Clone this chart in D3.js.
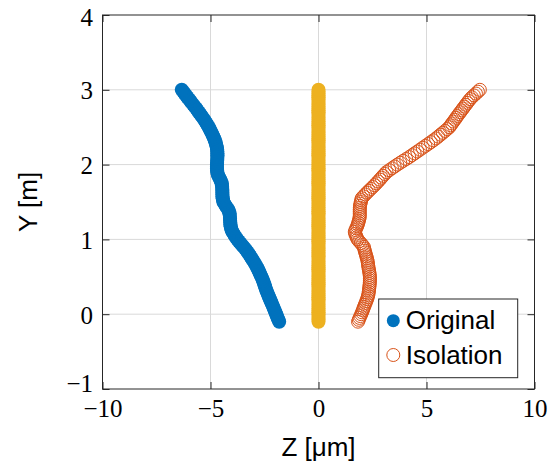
<!DOCTYPE html>
<html>
<head>
<meta charset="utf-8">
<script src="https://cdn.jsdelivr.net/npm/d3@7"></script>
<style>
body { margin: 0; background: #fff; }
</style>
</head>
<body>
<svg width="552" height="461"></svg>
<script>
// depth samples shared by the three series
const yValues = [
  -0.100, -0.075, -0.050, -0.025, 0.000, 0.025, 0.050, 0.075, 0.100, 0.125,
  0.150, 0.175, 0.200, 0.225, 0.250, 0.275, 0.300, 0.325, 0.350, 0.375,
  0.400, 0.425, 0.450, 0.475, 0.500, 0.525, 0.550, 0.575, 0.600, 0.625,
  0.650, 0.675, 0.700, 0.725, 0.750, 0.775, 0.800, 0.825, 0.850, 0.875,
  0.900, 0.925, 0.950, 0.975, 1.000, 1.025, 1.050, 1.075, 1.100, 1.125,
  1.150, 1.175, 1.200, 1.225, 1.250, 1.275, 1.300, 1.325, 1.350, 1.375,
  1.400, 1.425, 1.450, 1.475, 1.500, 1.525, 1.550, 1.575, 1.600, 1.625,
  1.650, 1.675, 1.700, 1.725, 1.750, 1.775, 1.800, 1.825, 1.850, 1.875,
  1.900, 1.925, 1.950, 1.975, 2.000, 2.025, 2.050, 2.075, 2.100, 2.125,
  2.150, 2.175, 2.200, 2.225, 2.250, 2.275, 2.300, 2.325, 2.350, 2.375,
  2.400, 2.425, 2.450, 2.475, 2.500, 2.525, 2.550, 2.575, 2.600, 2.625,
  2.650, 2.675, 2.700, 2.725, 2.750, 2.775, 2.800, 2.825, 2.850, 2.875,
  2.900, 2.925, 2.950, 2.975, 3.000
];

const zOriginal = [
  -1.82, -1.855, -1.89, -1.925, -1.96, -1.995, -2.03, -2.065, -2.10, -2.135,
  -2.17, -2.21, -2.25, -2.285, -2.32, -2.355, -2.39, -2.42, -2.45, -2.48,
  -2.51, -2.54, -2.57, -2.605, -2.64, -2.68, -2.72, -2.76, -2.80, -2.845,
  -2.89, -2.94, -2.99, -3.045, -3.10, -3.155, -3.21, -3.27, -3.33, -3.40,
  -3.47, -3.545, -3.62, -3.69, -3.76, -3.82, -3.88, -3.93, -3.98, -4.02,
  -4.05, -4.07, -4.08, -4.085, -4.09, -4.095, -4.10, -4.11, -4.12, -4.145,
  -4.18, -4.24, -4.30, -4.35, -4.40, -4.42, -4.44, -4.445, -4.45, -4.45,
  -4.45, -4.455, -4.46, -4.47, -4.48, -4.515, -4.55, -4.595, -4.64, -4.665,
  -4.69, -4.695, -4.70, -4.70, -4.70, -4.695, -4.69, -4.685, -4.68, -4.68,
  -4.68, -4.685, -4.69, -4.705, -4.72, -4.745, -4.77, -4.80, -4.83, -4.87,
  -4.91, -4.95, -4.99, -5.035, -5.08, -5.13, -5.18, -5.235, -5.29, -5.35,
  -5.41, -5.475, -5.54, -5.60, -5.66, -5.73, -5.80, -5.865, -5.93, -6.00,
  -6.07, -6.135, -6.20, -6.265, -6.33
];

const zCenter = [
  0, 0, 0, 0, 0, 0, 0, 0, 0, 0, 0, 0, 0, 0, 0, 0, 0, 0, 0, 0, 0, 0, 0, 0, 0,
  0, 0, 0, 0, 0, 0, 0, 0, 0, 0, 0, 0, 0, 0, 0, 0, 0, 0, 0, 0, 0, 0, 0, 0, 0,
  0, 0, 0, 0, 0, 0, 0, 0, 0, 0, 0, 0, 0, 0, 0, 0, 0, 0, 0, 0, 0, 0, 0, 0, 0,
  0, 0, 0, 0, 0, 0, 0, 0, 0, 0, 0, 0, 0, 0, 0, 0, 0, 0, 0, 0, 0, 0, 0, 0, 0,
  0, 0, 0, 0, 0, 0, 0, 0, 0, 0, 0, 0, 0, 0, 0, 0, 0, 0, 0, 0, 0, 0, 0, 0, 0
];

const zIsolation = [
  1.83, 1.865, 1.90, 1.94, 1.98, 2.015, 2.05, 2.08, 2.11, 2.145,
  2.18, 2.215, 2.25, 2.275, 2.30, 2.315, 2.33, 2.34, 2.35, 2.36,
  2.37, 2.375, 2.38, 2.38, 2.38, 2.37, 2.36, 2.345, 2.33, 2.315,
  2.30, 2.29, 2.28, 2.26, 2.24, 2.215, 2.19, 2.165, 2.14, 2.12,
  2.10, 2.03, 1.96, 1.88, 1.81, 1.77, 1.74, 1.70, 1.68, 1.71,
  1.75, 1.79, 1.82, 1.845, 1.87, 1.89, 1.91, 1.91, 1.91, 1.91,
  1.91, 1.915, 1.92, 1.94, 1.96, 1.98, 2.00, 2.08, 2.16, 2.245,
  2.33, 2.42, 2.51, 2.595, 2.68, 2.76, 2.84, 2.915, 2.99, 3.07,
  3.15, 3.275, 3.40, 3.525, 3.65, 3.785, 3.92, 4.06, 4.20, 4.325,
  4.45, 4.575, 4.70, 4.825, 4.95, 5.075, 5.20, 5.32, 5.44, 5.545,
  5.65, 5.755, 5.86, 5.96, 6.06, 6.12, 6.18, 6.245, 6.31, 6.37,
  6.43, 6.495, 6.56, 6.625, 6.69, 6.755, 6.82, 6.885, 6.95, 7.02,
  7.10, 7.195, 7.29, 7.38, 7.47
];

const xTicks = [-10, -5, 0, 5, 10];
const yTicks = [-1, 0, 1, 2, 3, 4];
const legendLabels = ["Original", "Isolation"];

const blue = "#0072BD", orange = "#D95319", yellow = "#EDB120";
const axisColor = "#262626", gridColor = "#d9d9d9";

const plotLeft = 102.5, plotRight = 534.5, plotTop = 15, plotBottom = 389;

const xScale = d3.scaleLinear().domain([-10, 10]).range([plotLeft, plotRight]);
const yScale = d3.scaleLinear().domain([-1, 4]).range([plotBottom, plotTop]);
const tickFmt = d3.format("d");

const svg = d3.select("svg");

// grid
svg.append("g")
  .selectAll("line")
  .data(xTicks.slice(1, -1))
  .enter().append("line")
  .attr("x1", d => xScale(d)).attr("x2", d => xScale(d))
  .attr("y1", plotTop).attr("y2", plotBottom)
  .attr("stroke", gridColor).attr("stroke-width", 1);

svg.append("g")
  .selectAll("line")
  .data(yTicks.slice(1, -1))
  .enter().append("line")
  .attr("x1", plotLeft).attr("x2", plotRight)
  .attr("y1", d => yScale(d)).attr("y2", d => yScale(d))
  .attr("stroke", gridColor).attr("stroke-width", 1);

// series
const rows = yValues.map((y, i) => ({ y: y, a: zOriginal[i], c: zCenter[i], b: zIsolation[i] }));

svg.append("g")
  .selectAll("circle")
  .data(rows)
  .enter().append("circle")
  .attr("cx", d => xScale(d.a))
  .attr("cy", d => yScale(d.y))
  .attr("r", 7)
  .attr("fill", blue);

svg.append("g")
  .selectAll("circle")
  .data(rows)
  .enter().append("circle")
  .attr("cx", d => xScale(d.c))
  .attr("cy", d => yScale(d.y))
  .attr("r", 7)
  .attr("fill", yellow);

svg.append("g")
  .selectAll("circle")
  .data(rows)
  .enter().append("circle")
  .attr("cx", d => xScale(d.b))
  .attr("cy", d => yScale(d.y))
  .attr("r", 6.5)
  .attr("fill", "none")
  .attr("stroke", orange)
  .attr("stroke-width", 1);

// axes, ticks pointing inward
function styleAxis(g) {
  g.select(".domain").remove();
  g.selectAll(".tick line").attr("stroke", axisColor);
  g.selectAll("text")
    .attr("fill", "#000")
    .style("font-family", "'Liberation Serif', serif")
    .style("font-size", "25px");
}

svg.append("g")
  .attr("transform", "translate(0," + plotBottom + ")")
  .call(d3.axisBottom(xScale).tickValues(xTicks).tickFormat(tickFmt).tickSize(-7).tickPadding(10))
  .call(styleAxis);

svg.append("g")
  .attr("transform", "translate(0," + plotTop + ")")
  .call(d3.axisTop(xScale).tickValues(xTicks).tickSize(-7).tickFormat(""))
  .call(styleAxis);

svg.append("g")
  .attr("transform", "translate(" + plotLeft + ",0)")
  .call(d3.axisLeft(yScale).tickValues(yTicks).tickFormat(tickFmt).tickSize(-7).tickPadding(9.5))
  .call(styleAxis)
  .selectAll(".tick text")
  // end labels are nudged inward so -1 clears -10 below it
  .attr("y", d => d === yTicks[0] ? -6 : (d === yTicks[yTicks.length - 1] ? 2 : 1));

svg.append("g")
  .attr("transform", "translate(" + plotRight + ",0)")
  .call(d3.axisRight(yScale).tickValues(yTicks).tickSize(-7).tickFormat(""))
  .call(styleAxis);

svg.append("rect")
  .attr("x", plotLeft).attr("y", plotTop)
  .attr("width", plotRight - plotLeft).attr("height", plotBottom - plotTop)
  .attr("fill", "none")
  .attr("stroke", axisColor)
  .attr("stroke-width", 1);

// axis titles
svg.append("text")
  .attr("x", (plotLeft + plotRight) / 2)
  .attr("y", 456)
  .attr("text-anchor", "middle")
  .style("font-family", "'Liberation Sans', Arial, sans-serif")
  .style("font-size", "26px")
  .text("Z [μm]");

svg.append("text")
  .attr("transform", "translate(37," + (plotTop + plotBottom) / 2 + ") rotate(-90)")
  .attr("text-anchor", "middle")
  .style("font-family", "'Liberation Sans', Arial, sans-serif")
  .style("font-size", "26px")
  .text("Y [m]");

// legend
const legend = svg.append("g").attr("transform", "translate(378.7,299)");

legend.append("rect")
  .attr("width", 139).attr("height", 78.7)
  .attr("fill", "#fff")
  .attr("stroke", axisColor)
  .attr("stroke-width", 1);

const entries = legend.selectAll(".entry")
  .data(legendLabels)
  .enter().append("g")
  .attr("class", "entry")
  .attr("transform", (d, i) => "translate(0," + (21.7 + i * 34.3) + ")");

entries.append("circle")
  .attr("cx", 14.6)
  .attr("r", 6.5)
  .attr("fill", (d, i) => i === 0 ? blue : "none")
  .attr("stroke", (d, i) => i === 0 ? "none" : orange)
  .attr("stroke-width", 1);

entries.append("text")
  .attr("x", 27)
  .attr("y", 8.6)
  .style("font-family", "'Liberation Sans', Arial, sans-serif")
  .style("font-size", "26px")
  .text(d => d);
</script>
</body>
</html>
